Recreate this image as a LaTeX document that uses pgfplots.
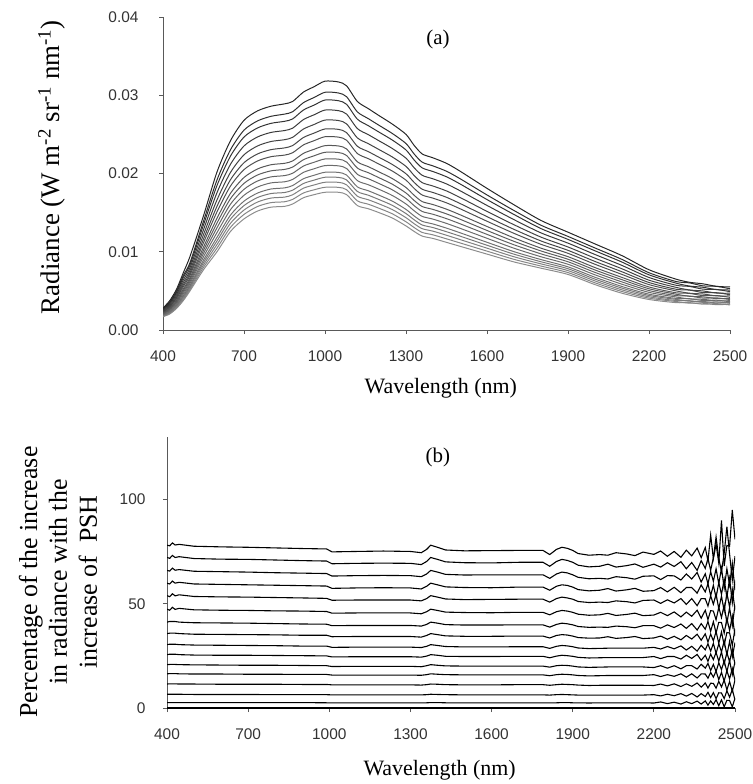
\documentclass[border=0pt]{standalone}
\usepackage{fontspec}
\setmainfont{Liberation Serif}
\newfontfamily\arialfont{Liberation Sans}
\usepackage{pgfplots}
\usepackage{pgfplotstable}
\pgfplotsset{compat=1.18}

\pgfplotstableread{
lam c0 c1 c2 c3 c4 c5 c6 c7 c8 c9 c10 c11 c12 c13 c14 c15
400 1.70e-3 1.75e-3 1.80e-3 1.85e-3 1.90e-3 1.96e-3 2.03e-3 2.10e-3 2.16e-3 2.25e-3 2.33e-3 2.42e-3 2.51e-3 2.61e-3 2.69e-3 2.80e-3
425 2.05e-3 2.12e-3 2.20e-3 2.27e-3 2.35e-3 2.45e-3 2.56e-3 2.66e-3 2.76e-3 2.90e-3 3.02e-3 3.16e-3 3.31e-3 3.46e-3 3.58e-3 3.75e-3
450 2.75e-3 2.86e-3 2.97e-3 3.08e-3 3.19e-3 3.34e-3 3.49e-3 3.64e-3 3.79e-3 3.99e-3 4.16e-3 4.36e-3 4.58e-3 4.80e-3 4.97e-3 5.20e-3
475 3.75e-3 3.91e-3 4.07e-3 4.23e-3 4.39e-3 4.60e-3 4.82e-3 5.03e-3 5.24e-3 5.53e-3 5.78e-3 6.07e-3 6.39e-3 6.71e-3 6.96e-3 7.30e-3
500 5.00e-3 5.18e-3 5.36e-3 5.54e-3 5.72e-3 5.96e-3 6.20e-3 6.44e-3 6.68e-3 7.00e-3 7.28e-3 7.60e-3 7.96e-3 8.32e-3 8.60e-3 9.40e-3
550 7.70e-3 8.01e-3 8.32e-3 8.63e-3 8.94e-3 9.36e-3 9.77e-3 10.18e-3 10.60e-3 11.15e-3 11.63e-3 12.19e-3 12.81e-3 13.43e-3 13.91e-3 14.60e-3
600 10.00e-3 10.46e-3 10.92e-3 11.38e-3 11.84e-3 12.45e-3 13.06e-3 13.67e-3 14.28e-3 15.10e-3 15.81e-3 16.63e-3 17.55e-3 18.47e-3 19.18e-3 20.20e-3
650 12.60e-3 13.12e-3 13.64e-3 14.17e-3 14.69e-3 15.38e-3 16.08e-3 16.78e-3 17.47e-3 18.40e-3 19.21e-3 20.14e-3 21.18e-3 22.23e-3 23.04e-3 24.20e-3
700 14.20e-3 14.77e-3 15.33e-3 15.90e-3 16.47e-3 17.22e-3 17.98e-3 18.74e-3 19.49e-3 20.50e-3 21.38e-3 22.39e-3 23.52e-3 24.66e-3 25.54e-3 26.80e-3
750 15.20e-3 15.78e-3 16.35e-3 16.93e-3 17.50e-3 18.27e-3 19.04e-3 19.81e-3 20.58e-3 21.60e-3 22.50e-3 23.52e-3 24.67e-3 25.82e-3 26.72e-3 28.00e-3
800 15.70e-3 16.28e-3 16.86e-3 17.44e-3 18.02e-3 18.80e-3 19.57e-3 20.34e-3 21.12e-3 22.15e-3 23.05e-3 24.09e-3 25.25e-3 26.41e-3 27.31e-3 28.60e-3
850 15.80e-3 16.39e-3 16.98e-3 17.57e-3 18.16e-3 18.94e-3 19.73e-3 20.52e-3 21.30e-3 22.35e-3 23.27e-3 24.32e-3 25.49e-3 26.67e-3 27.59e-3 28.90e-3
880 16.10e-3 16.69e-3 17.28e-3 17.87e-3 18.46e-3 19.24e-3 20.03e-3 20.82e-3 21.60e-3 22.65e-3 23.57e-3 24.62e-3 25.79e-3 26.97e-3 27.89e-3 29.20e-3
920 16.90e-3 17.51e-3 18.12e-3 18.72e-3 19.33e-3 20.14e-3 20.95e-3 21.76e-3 22.57e-3 23.65e-3 24.60e-3 25.68e-3 26.89e-3 28.11e-3 29.05e-3 30.40e-3
960 17.30e-3 17.92e-3 18.54e-3 19.16e-3 19.78e-3 20.61e-3 21.44e-3 22.27e-3 23.10e-3 24.20e-3 25.17e-3 26.27e-3 27.51e-3 28.75e-3 29.72e-3 31.10e-3
1000 17.60e-3 18.24e-3 18.88e-3 19.52e-3 20.16e-3 21.01e-3 21.86e-3 22.71e-3 23.56e-3 24.70e-3 25.69e-3 26.83e-3 28.11e-3 29.39e-3 30.38e-3 31.80e-3
1050 17.60e-3 18.23e-3 18.87e-3 19.50e-3 20.14e-3 20.98e-3 21.83e-3 22.68e-3 23.52e-3 24.65e-3 25.64e-3 26.77e-3 28.03e-3 29.30e-3 30.29e-3 31.70e-3
1080 17.30e-3 17.93e-3 18.55e-3 19.18e-3 19.80e-3 20.64e-3 21.47e-3 22.30e-3 23.14e-3 24.25e-3 25.22e-3 26.34e-3 27.59e-3 28.84e-3 29.81e-3 31.20e-3
1120 15.90e-3 16.50e-3 17.10e-3 17.70e-3 18.29e-3 19.09e-3 19.89e-3 20.69e-3 21.49e-3 22.55e-3 23.48e-3 24.55e-3 25.74e-3 26.94e-3 27.87e-3 29.20e-3
1160 15.50e-3 16.08e-3 16.65e-3 17.23e-3 17.80e-3 18.57e-3 19.34e-3 20.11e-3 20.88e-3 21.90e-3 22.80e-3 23.82e-3 24.97e-3 26.12e-3 27.02e-3 28.30e-3
1200 15.00e-3 15.56e-3 16.12e-3 16.67e-3 17.23e-3 17.98e-3 18.72e-3 19.46e-3 20.21e-3 21.20e-3 22.07e-3 23.06e-3 24.18e-3 25.29e-3 26.16e-3 27.40e-3
1250 14.30e-3 14.84e-3 15.38e-3 15.92e-3 16.46e-3 17.18e-3 17.90e-3 18.62e-3 19.34e-3 20.30e-3 21.14e-3 22.10e-3 23.18e-3 24.26e-3 25.10e-3 26.30e-3
1300 13.30e-3 13.83e-3 14.35e-3 14.88e-3 15.41e-3 16.11e-3 16.81e-3 17.51e-3 18.21e-3 19.15e-3 19.97e-3 20.91e-3 21.96e-3 23.01e-3 23.83e-3 25.00e-3
1330 12.60e-3 13.10e-3 13.59e-3 14.09e-3 14.58e-3 15.24e-3 15.90e-3 16.56e-3 17.22e-3 18.10e-3 18.87e-3 19.75e-3 20.74e-3 21.73e-3 22.50e-3 23.60e-3
1360 12.00e-3 12.47e-3 12.95e-3 13.42e-3 13.89e-3 14.52e-3 15.15e-3 15.78e-3 16.41e-3 17.25e-3 17.99e-3 18.83e-3 19.77e-3 20.72e-3 21.45e-3 22.50e-3
1400 11.70e-3 12.16e-3 12.63e-3 13.09e-3 13.55e-3 14.17e-3 14.79e-3 15.41e-3 16.03e-3 16.85e-3 17.57e-3 18.40e-3 19.32e-3 20.25e-3 20.97e-3 22.00e-3
1450 11.20e-3 11.65e-3 12.11e-3 12.56e-3 13.02e-3 13.62e-3 14.23e-3 14.84e-3 15.44e-3 16.25e-3 16.96e-3 17.77e-3 18.67e-3 19.58e-3 20.29e-3 21.30e-3
1500 10.70e-3 11.13e-3 11.56e-3 12.00e-3 12.43e-3 13.00e-3 13.58e-3 14.16e-3 14.73e-3 15.50e-3 16.17e-3 16.94e-3 17.80e-3 18.67e-3 19.34e-3 20.30e-3
1600 9.70e-3 10.08e-3 10.46e-3 10.83e-3 11.21e-3 11.72e-3 12.22e-3 12.72e-3 13.23e-3 13.90e-3 14.49e-3 15.16e-3 15.92e-3 16.67e-3 17.26e-3 18.10e-3
1700 8.70e-3 9.03e-3 9.36e-3 9.69e-3 10.01e-3 10.45e-3 10.89e-3 11.33e-3 11.77e-3 12.35e-3 12.86e-3 13.45e-3 14.10e-3 14.76e-3 15.27e-3 16.00e-3
1800 7.90e-3 8.17e-3 8.45e-3 8.72e-3 9.00e-3 9.36e-3 9.73e-3 10.10e-3 10.46e-3 10.95e-3 11.38e-3 11.87e-3 12.41e-3 12.96e-3 13.39e-3 14.00e-3
1900 7.10e-3 7.34e-3 7.59e-3 7.83e-3 8.07e-3 8.40e-3 8.72e-3 9.04e-3 9.37e-3 9.80e-3 10.18e-3 10.61e-3 11.10e-3 11.58e-3 11.96e-3 12.50e-3
2000 5.80e-3 6.03e-3 6.27e-3 6.50e-3 6.74e-3 7.05e-3 7.36e-3 7.67e-3 7.98e-3 8.40e-3 8.76e-3 9.18e-3 9.65e-3 10.12e-3 10.48e-3 11.00e-3
2100 4.70e-3 4.92e-3 5.13e-3 5.35e-3 5.56e-3 5.85e-3 6.14e-3 6.43e-3 6.72e-3 7.10e-3 7.44e-3 7.82e-3 8.25e-3 8.68e-3 9.02e-3 9.50e-3
2200 3.90e-3 4.07e-3 4.24e-3 4.41e-3 4.58e-3 4.81e-3 5.04e-3 5.27e-3 5.50e-3 5.80e-3 6.07e-3 6.37e-3 6.71e-3 7.05e-3 7.32e-3 7.70e-3
2300 3.50e-3 3.64e-3 3.77e-3 3.91e-3 4.04e-3 4.22e-3 4.40e-3 4.58e-3 4.76e-3 5.00e-3 5.21e-3 5.45e-3 5.72e-3 5.99e-3 6.20e-3 6.50e-3
2350 3.50e-3 3.43e-3 3.75e-3 3.68e-3 4.00e-3 3.97e-3 4.34e-3 4.31e-3 4.68e-3 4.70e-3 5.10e-3 5.12e-3 5.57e-3 5.62e-3 6.02e-3 6.10e-3
2400 3.30e-3 3.42e-3 3.53e-3 3.65e-3 3.77e-3 3.92e-3 4.08e-3 4.24e-3 4.39e-3 4.60e-3 4.78e-3 4.99e-3 5.22e-3 5.46e-3 5.64e-3 5.90e-3
2450 3.37e-3 3.24e-3 3.59e-3 3.46e-3 3.81e-3 3.72e-3 4.11e-3 4.01e-3 4.40e-3 4.36e-3 4.77e-3 4.72e-3 5.18e-3 5.16e-3 5.58e-3 5.58e-3
2500 3.20e-3 3.30e-3 3.41e-3 3.51e-3 3.61e-3 3.75e-3 3.89e-3 4.03e-3 4.17e-3 4.35e-3 4.51e-3 4.70e-3 4.90e-3 5.11e-3 5.27e-3 5.50e-3
}\dataA

\pgfplotstableread{
lam p0 p1 p2 p3 p4 p5 p6 p7 p8 p9 p10 p11 p12 p13 p14 p15
400 0 2.6 6.6 11.5 16.4 20.8 25.6 30.4 35.7 41.2 47.4 53.9 59.9 66.0 72.2 78.1
410 0 2.6 6.6 11.6 16.5 20.9 25.8 30.6 35.9 41.5 46.9 53.4 59.5 65.7 71.8 77.8
420 0 2.6 6.6 11.6 16.5 20.9 25.8 30.6 35.9 41.5 48.3 54.8 60.9 67.1 73.2 79.2
430 0 2.6 6.6 11.6 16.5 20.9 25.8 30.6 35.9 41.5 47.3 53.8 59.9 66.1 72.2 78.2
445 0 2.6 6.6 11.5 16.4 20.8 25.6 30.4 35.7 41.2 47.8 54.3 60.3 66.4 72.6 78.5
500 0 2.6 6.5 11.5 16.3 20.7 25.4 30.2 35.4 40.9 47.1 53.5 59.5 65.6 71.7 77.6
600 0 2.6 6.5 11.4 16.3 20.6 25.3 30.1 35.3 40.8 46.9 53.3 59.3 65.4 71.4 77.3
700 0 2.6 6.5 11.4 16.2 20.5 25.3 30.0 35.2 40.7 46.8 53.2 59.1 65.2 71.3 77.1
800 0 2.6 6.4 11.4 16.2 20.5 25.2 29.9 35.1 40.5 46.6 53.0 58.9 64.9 71.0 76.8
900 0 2.6 6.4 11.3 16.1 20.4 25.1 29.7 34.9 40.3 46.5 52.8 58.7 64.7 70.7 76.5
990 0 2.5 6.4 11.3 16.1 20.3 25.0 29.7 34.9 40.2 46.3 52.6 58.5 64.5 70.5 76.3
1010 0 2.5 6.3 11.1 15.8 19.9 24.5 29.1 34.2 39.5 45.5 51.7 57.4 63.3 69.2 74.9
1100 0 2.5 6.3 11.1 15.8 20.0 24.6 29.2 34.3 39.6 45.6 51.8 57.6 63.5 69.4 75.1
1200 0 2.5 6.3 11.1 15.8 20.0 24.6 29.2 34.3 39.6 45.6 51.8 57.7 63.6 69.5 75.3
1300 0 2.5 6.3 11.1 15.8 20.0 24.6 29.2 34.3 39.6 45.6 51.8 57.6 63.5 69.4 75.1
1340 0 2.5 6.3 11.0 15.7 19.8 24.4 29.0 34.0 39.3 45.2 51.4 57.1 63.0 68.8 74.5
1360 0 2.5 6.4 11.2 16.0 20.3 24.9 29.6 34.8 40.1 46.2 52.5 58.4 64.3 70.3 76.1
1375 0 2.6 6.6 11.5 16.4 20.8 25.6 30.4 35.7 41.2 47.4 53.9 59.9 66.0 72.2 78.1
1400 0 2.6 6.5 11.4 16.2 20.5 25.3 30.0 35.2 40.7 46.8 53.2 59.1 65.2 71.3 77.1
1430 0 2.5 6.4 11.2 16.0 20.2 24.8 29.5 34.6 40.0 46.0 52.3 58.1 64.1 70.1 75.8
1500 0 2.5 6.3 11.1 15.9 20.1 24.7 29.3 34.4 39.8 45.8 52.0 57.8 63.8 69.7 75.4
1600 0 2.5 6.3 11.1 15.9 20.1 24.7 29.3 34.4 39.8 45.7 52.1 57.7 63.9 69.6 75.5
1700 0 2.5 6.3 11.2 15.9 20.1 24.8 29.4 34.5 39.9 45.9 52.2 58.0 63.9 69.9 75.6
1790 0 2.5 6.3 11.2 15.9 20.1 24.8 29.4 34.5 39.9 45.9 52.2 58.0 63.9 69.9 75.6
1815 0 2.5 6.2 10.9 15.5 19.6 24.1 28.6 33.6 38.8 44.7 50.8 56.5 62.2 68.0 73.6
1840 0 2.5 6.4 11.2 16.0 20.3 24.9 29.6 34.8 40.1 46.2 52.5 58.4 64.3 70.3 76.1
1860 0 2.6 6.5 11.4 16.2 20.5 25.3 30.0 35.2 40.7 46.8 53.2 59.1 65.2 71.3 77.1
1880 0 2.6 6.4 11.3 16.1 20.4 25.1 29.8 35.0 40.4 46.5 52.8 58.8 64.8 70.8 76.6
1900 0 2.5 6.3 11.2 15.9 20.1 24.8 29.4 34.5 39.9 45.9 52.2 58.0 63.9 69.9 75.6
1920 0 2.5 6.2 11.0 15.6 19.7 24.3 28.8 33.8 39.1 45.0 51.1 56.8 62.7 68.5 74.1
1960 0 2.4 6.2 10.8 15.4 19.5 24.0 28.5 33.5 38.7 44.5 50.6 56.2 62.0 67.7 73.3
2000 0 2.5 6.2 10.9 15.5 19.6 24.1 28.6 33.6 38.8 44.7 50.8 56.5 62.2 68.0 73.6
2030 0 2.5 6.2 10.9 15.6 19.7 24.2 28.7 34.2 38.7 45.4 50.6 57.3 61.9 69.0 73.3
2060 0 2.5 6.2 10.9 15.6 19.7 24.2 28.7 33.4 39.3 44.4 51.4 56.1 63.0 67.6 74.5
2100 0 2.5 6.2 10.9 15.6 19.7 24.2 28.7 33.8 39.0 44.9 51.0 56.7 62.5 68.3 73.9
2130 0 2.5 6.2 10.9 15.6 19.7 24.2 28.7 34.3 38.5 45.5 50.4 57.4 61.8 69.1 73.1
2160 0 2.5 6.2 10.9 15.6 19.7 24.2 28.7 33.3 39.5 44.3 51.6 56.0 63.2 67.5 74.8
2200 0 2.4 6.4 10.8 16.0 19.4 24.7 29.1 33.6 39.5 44.6 51.8 56.3 63.4 69.0 73.7
2225 0 2.9 5.8 11.5 15.1 20.3 23.7 28.3 34.5 38.3 45.9 50.2 57.8 61.6 67.6 75.3
2250 0 2.1 6.6 10.6 16.0 19.1 24.7 29.5 33.0 39.9 44.3 51.9 55.7 63.5 69.7 72.8
2275 0 2.8 5.9 11.6 15.2 20.3 24.7 28.4 34.4 38.6 46.1 50.4 57.9 63.4 67.9 75.1
2300 0 1.9 6.9 10.3 16.4 18.8 23.5 29.8 32.7 40.3 43.7 52.5 55.3 61.4 70.2 72.3
2320 0 3.0 5.7 11.6 14.8 20.3 25.3 27.8 34.8 38.2 46.0 49.7 57.8 64.3 66.8 75.7
2340 0 2.1 7.0 10.4 16.4 20.3 23.8 29.6 33.1 40.5 44.0 52.5 57.8 61.9 69.8 73.0
2360 0 3.3 5.3 12.0 14.4 18.7 25.7 27.3 35.4 37.4 46.9 49.1 55.1 65.0 66.0 76.7
2375 0 1.9 6.9 10.0 16.4 21.0 22.9 30.1 32.5 40.5 43.1 52.5 59.0 60.4 70.7 72.1
2390 0 3.4 5.5 12.0 16.3 19.1 25.3 27.9 35.6 37.8 46.9 52.4 55.7 64.4 67.0 77.0
2400 0 1.4 7.5 9.6 14.3 21.4 22.4 30.8 31.6 41.5 42.4 48.9 59.7 59.6 71.8 70.6
2410 0 3.4 5.0 11.9 17.1 18.0 25.9 27.3 35.5 36.8 46.7 53.8 53.9 65.4 66.0 83.0
2420 0 1.7 7.4 11.8 14.8 20.9 23.2 31.0 32.2 41.4 46.5 49.8 58.9 60.8 72.1 71.6
2430 0 4.0 4.5 9.5 17.7 17.5 26.7 26.2 36.7 36.0 42.3 54.7 52.9 66.8 82.0 78.7
2440 0 1.1 7.3 12.8 13.6 21.7 22.4 30.8 31.0 41.1 48.3 47.6 60.2 59.6 71.8 69.6
2450 0 3.9 7.2 10.1 17.1 18.4 26.9 26.9 36.5 41.0 43.4 53.7 54.5 67.1 65.4 90.0
2460 0 0.6 4.5 13.4 12.9 22.6 21.1 32.2 30.1 35.9 49.4 46.4 61.8 57.4 74.2 68.1
2470 0 3.7 8.3 8.7 17.9 17.5 26.7 25.5 36.2 43.0 40.7 55.2 53.0 66.8 87.0 78.0
2480 0 3.6 5.2 12.7 14.0 22.8 22.1 32.0 36.0 37.2 48.1 48.4 62.1 59.0 73.8 77.6
2490 0 0.6 8.9 8.0 19.0 16.0 28.3 24.5 30.1 44.1 39.5 56.9 50.5 69.4 61.4 95.0
2500 0 4.7 3.8 13.4 13.2 22.3 20.7 31.4 38.0 34.6 49.4 47.0 61.2 56.7 72.8 80.9
}\dataB

\pgfplotsset{
  myax/.style={
    scale only axis,
    axis lines=left,
    axis line style={-, draw=black!65, line width=0.9pt},
    tick align=outside,
    major tick length=4bp,
    tick style={black!65, line width=0.8pt},
    xmin=400, xmax=2500,
    xtick={400,700,1000,1300,1600,1900,2200,2500},
    ticklabel style={font=\arialfont\fontsize{15.5}{18}\selectfont, text=black!80},
    /pgf/number format/assume math mode=true,
    /pgf/number format/1000 sep={},
    scaled ticks=false,
    xticklabel style={yshift=-13bp},
    xlabel style={font=\fontsize{22}{26}\selectfont, anchor=center},
    ylabel style={anchor=center},
  },
  la/.style={line width=1.0pt, smooth, tension=0.45},
  lb/.style={line width=1.1pt, black},
}

\begin{document}
\begin{tikzpicture}
\begin{axis}[myax,
  at={(163bp,-330bp)}, anchor=south west,
  width=567bp, height=313bp,
  ymin=0, ymax=0.04,
  ytick={0,0.01,0.02,0.03,0.04},
  yticklabel style={/pgf/number format/.cd, fixed, fixed zerofill, precision=2, /tikz/.cd, xshift=-17bp},
  xlabel={Wavelength (nm)},
  xlabel style={at={(axis description cs:0.49,0)}, yshift=-58bp},
  ylabel={Radiance (W m\textsuperscript{-2} sr\textsuperscript{-1} nm\textsuperscript{-1})},
  ylabel style={at={(axis description cs:-0.196,0.52)}, font=\fontsize{27}{30}\selectfont},
]
\addplot[la, black!45] table[x=lam, y=c0] {\dataA};
\addplot[la, black!48] table[x=lam, y=c1] {\dataA};
\addplot[la, black!50] table[x=lam, y=c2] {\dataA};
\addplot[la, black!53] table[x=lam, y=c3] {\dataA};
\addplot[la, black!56] table[x=lam, y=c4] {\dataA};
\addplot[la, black!58] table[x=lam, y=c5] {\dataA};
\addplot[la, black!61] table[x=lam, y=c6] {\dataA};
\addplot[la, black!64] table[x=lam, y=c7] {\dataA};
\addplot[la, black!66] table[x=lam, y=c8] {\dataA};
\addplot[la, black!69] table[x=lam, y=c9] {\dataA};
\addplot[la, black!72] table[x=lam, y=c10] {\dataA};
\addplot[la, black!74] table[x=lam, y=c11] {\dataA};
\addplot[la, black!77] table[x=lam, y=c12] {\dataA};
\addplot[la, black!80] table[x=lam, y=c13] {\dataA};
\addplot[la, black!82] table[x=lam, y=c14] {\dataA};
\addplot[la, black!85] table[x=lam, y=c15] {\dataA};
\node[font=\fontsize{21}{24}\selectfont] at (axis description cs:0.485,0.927) {(a)};
\end{axis}

\begin{axis}[myax,
  at={(167bp,-708bp)}, anchor=south west,
  width=568bp, height=271bp,
  ymin=0, ymax=130,
  ytick={0,50,100},
  yticklabel style={xshift=-14bp},
  xlabel={Wavelength (nm)},
  xlabel style={at={(axis description cs:0.48,0)}, yshift=-62bp},
  ylabel={Percentage of the increase\\in radiance with the\\increase of\ \ PSH},
  ylabel style={at={(axis description cs:-0.192,0.465)}, align=center, font=\fontsize{26}{30}\selectfont},
]
\addplot[lb] table[x=lam, y=p0] {\dataB};
\addplot[lb] table[x=lam, y=p1] {\dataB};
\addplot[lb] table[x=lam, y=p2] {\dataB};
\addplot[lb] table[x=lam, y=p3] {\dataB};
\addplot[lb] table[x=lam, y=p4] {\dataB};
\addplot[lb] table[x=lam, y=p5] {\dataB};
\addplot[lb] table[x=lam, y=p6] {\dataB};
\addplot[lb] table[x=lam, y=p7] {\dataB};
\addplot[lb] table[x=lam, y=p8] {\dataB};
\addplot[lb] table[x=lam, y=p9] {\dataB};
\addplot[lb] table[x=lam, y=p10] {\dataB};
\addplot[lb] table[x=lam, y=p11] {\dataB};
\addplot[lb] table[x=lam, y=p12] {\dataB};
\addplot[lb] table[x=lam, y=p13] {\dataB};
\addplot[lb] table[x=lam, y=p14] {\dataB};
\addplot[lb] table[x=lam, y=p15] {\dataB};
\node[font=\fontsize{21}{24}\selectfont] at (axis description cs:0.477,0.926) {(b)};
\end{axis}
\pgfresetboundingbox
\path[use as bounding box] (0,0) rectangle (753bp,-784bp);
\end{tikzpicture}
\end{document}
